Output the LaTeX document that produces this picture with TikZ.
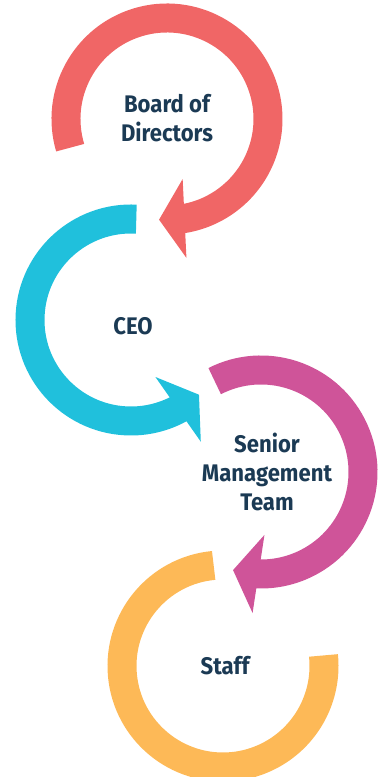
\documentclass[tikz,border=0pt]{standalone}
\usepackage{fontspec}
\setmainfont{Fira Sans}[FakeStretch=0.92]
\usetikzlibrary{calc}

\definecolor{ringred}{HTML}{F06666}
\definecolor{ringcyan}{HTML}{20C0DC}
\definecolor{ringmagenta}{HTML}{CF5499}
\definecolor{ringorange}{HTML}{FDB957}
\definecolor{navytext}{HTML}{1B3A54}

\begin{document}
\begin{tikzpicture}[x=1pt,y=1pt,
  band/.style={line width=29pt, line cap=butt},
  lbl/.style={font=\fontsize{24}{29}\selectfont\bfseries, text=navytext,
              align=center, inner sep=0pt}]
\useasboundingbox (0,0) rectangle (380,777);

% ring centres
\coordinate (rc) at (167,658);
\coordinate (cc) at (131,457);
\coordinate (mc) at (261,305);
\coordinate (oc) at (223,111);

% ring bands
\draw[band, ringred]     ($(rc)+(196.5:101pt)$) arc[start angle=196.5, end angle=-83,   radius=101pt];
\draw[band, ringcyan]    ($(cc)+(87:101pt)$)    arc[start angle=87,    end angle=300.8, radius=101pt];
\draw[band, ringmagenta] ($(mc)+(117:102pt)$)   arc[start angle=117,   end angle=-94.4, radius=102pt];
\draw[band, ringorange]  ($(oc)+(95.3:101pt)$)  arc[start angle=95.3,  end angle=366,   radius=101pt];

% arrowheads: base centre (xM) and tip (xT) on the band's mid-line
\coordinate (rM) at ($(rc)+(-80:101pt)$);
\coordinate (rT) at ($(rc)+(-94.5:101pt)$);
\fill[ringred] (rT) -- ($(rM)!39.5pt!90:(rT)$) -- ($(rM)!39.5pt!-90:(rT)$) -- cycle;

\coordinate (cM) at ($(cc)+(297.8:101pt)$);
\coordinate (cT) at ($(cc)+(312.3:101pt)$);
\fill[ringcyan] (cT) -- ($(cM)!39.5pt!90:(cT)$) -- ($(cM)!39.5pt!-90:(cT)$) -- cycle;

\coordinate (mM) at ($(mc)+(-91.4:102pt)$);
\coordinate (mT) at ($(mc)+(-105.9:102pt)$);
\fill[ringmagenta] (mT) -- ($(mM)!39.5pt!90:(mT)$) -- ($(mM)!39.5pt!-90:(mT)$) -- cycle;

% labels
\node[lbl] (board) at (167,658.5) {Board of\\Directors};
\node[lbl] (ceo)   at (133,451)   {CEO};
\node[lbl] (smt)   at (267,305)   {Senior\\Management\\Team};
\node[lbl] (staff) at (225,111)   {Staff};
\end{tikzpicture}
\end{document}
